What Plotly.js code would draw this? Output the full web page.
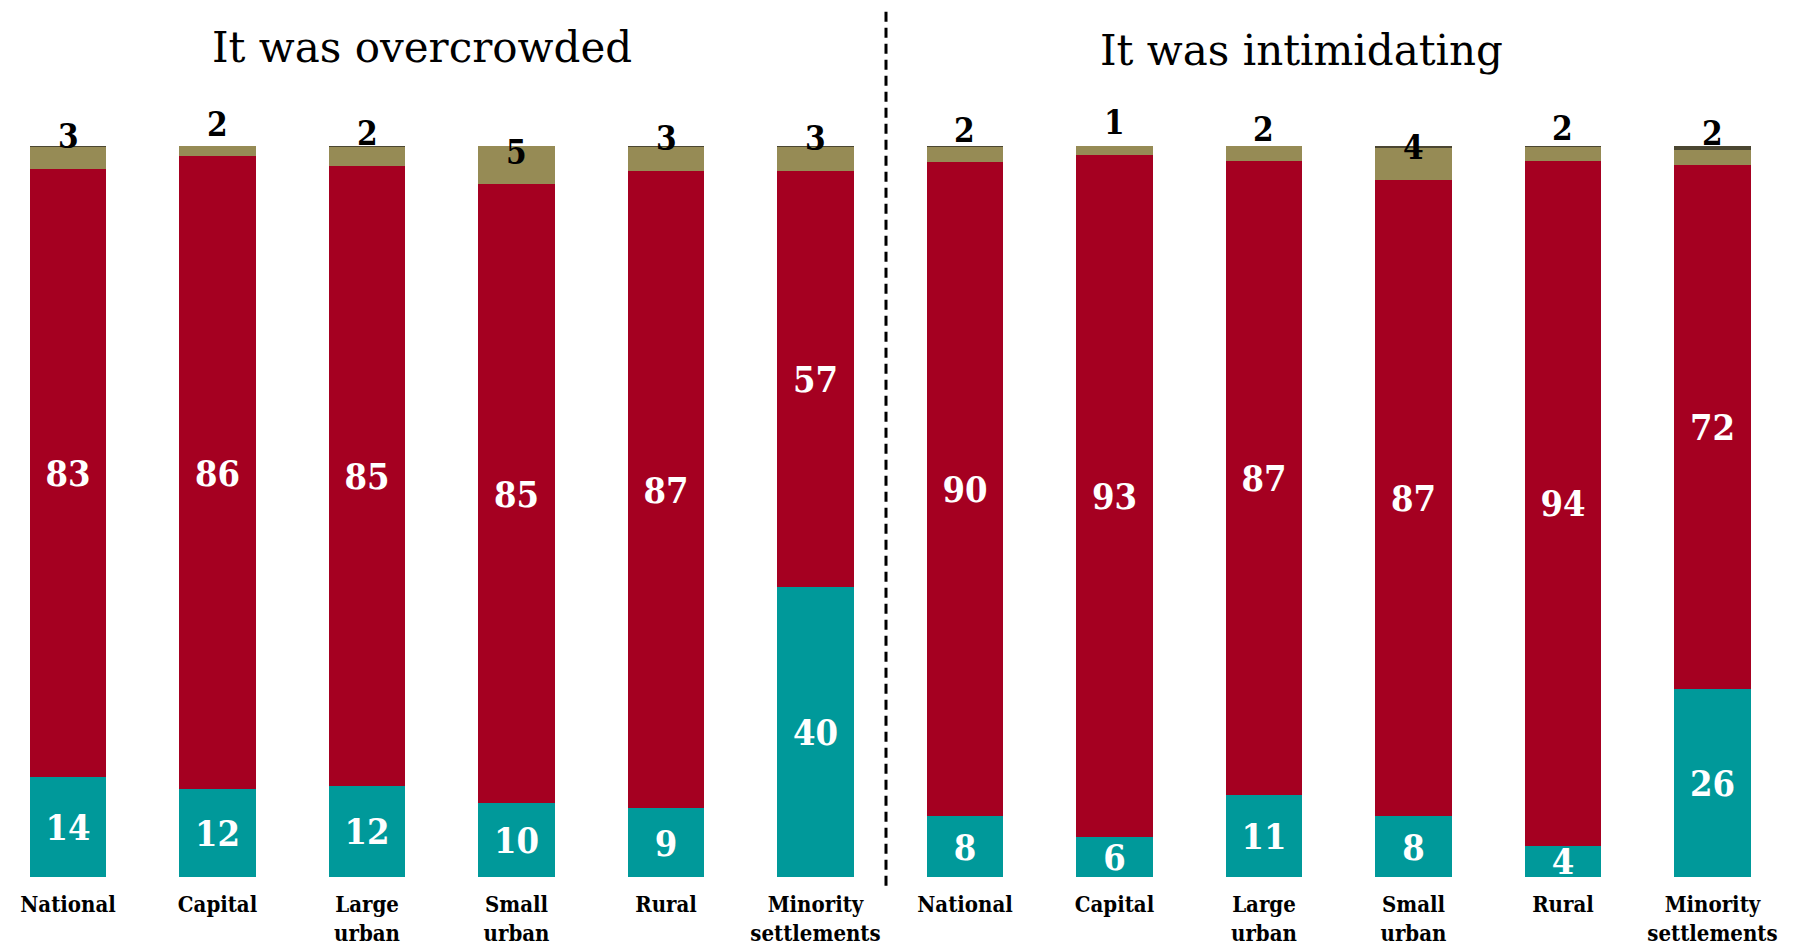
<!DOCTYPE html>
<html>
<head>
<meta charset="utf-8">
<script src="https://cdn.plot.ly/plotly-3.0.1.min.js"></script>
<style>html,body{margin:0;padding:0;background:#fff;}#chart{width:1805px;height:946px;}</style>
</head>
<body>
<div id="chart"></div>
<script>
// ---- data ----
const categories = ['National', 'Capital', 'Large<br>urban', 'Small<br>urban', 'Rural', 'Minority<br>settlements'];
const panelTitles = ['It was overcrowded', 'It was intimidating'];

// "It was overcrowded" (bar heights, labels as printed)
const crowdTeal  = [13.7, 12.0, 12.5, 10.1, 9.4, 39.7];
const crowdRed   = [83.2, 86.6, 84.8, 84.7, 87.2, 56.9];
const crowdOlive = [3.0, 1.4, 2.6, 5.2, 3.3, 3.3];
const crowdDark  = [0.1, 0.0, 0.15, 0.0, 0.15, 0.15];
const crowdTealLbl  = [14, 12, 12, 10, 9, 40];
const crowdRedLbl   = [83, 86, 85, 85, 87, 57];
const crowdOliveLbl = [3, 2, 2, 5, 3, 3];

// "It was intimidating"
const intimTeal  = [8.3, 5.5, 11.2, 8.3, 4.3, 25.7];
const intimRed   = [89.5, 93.3, 86.7, 87.1, 93.7, 71.7];
const intimOlive = [2.05, 1.2, 2.1, 4.3, 1.9, 2.1];
const intimDark  = [0.2, 0.0, 0.0, 0.3, 0.15, 0.5];
const intimTealLbl  = [8, 6, 11, 8, 4, 26];
const intimRedLbl   = [90, 93, 87, 87, 94, 72];
const intimOliveLbl = [2, 1, 2, 4, 2, 2];

// ---- style ----
const C_TEAL = '#00999a', C_RED = '#a50021', C_OLIVE = '#968b55', C_DARK = '#4b4631';
const FONT = 'DejaVu Serif Condensed, DejaVu Serif, serif';
const BARW = 0.51;

function panel(axis, teal, red, olive, dark, tealLbl, redLbl) {
  const base = {type: 'bar', x: categories, xaxis: axis, yaxis: 'y', width: BARW,
    hoverinfo: 'skip', showlegend: false, marker: {line: {width: 0}},
    textposition: 'inside', insidetextanchor: 'middle', constraintext: 'none', textangle: 0,
    textfont: {family: FONT, size: 36, color: '#ffffff', weight: 'bold'}, cliponaxis: false};
  return [
    Object.assign({}, base, {y: teal, marker: {color: C_TEAL}, text: tealLbl.map(String)}),
    Object.assign({}, base, {y: red, marker: {color: C_RED}, text: redLbl.map(String)}),
    Object.assign({}, base, {y: olive, marker: {color: C_OLIVE}}),
    Object.assign({}, base, {y: dark, marker: {color: C_DARK}})
  ];
}

const data = [].concat(
  panel('x', crowdTeal, crowdRed, crowdOlive, crowdDark, crowdTealLbl, crowdRedLbl),
  panel('x2', intimTeal, intimRed, intimOlive, intimDark, intimTealLbl, intimRedLbl)
);

function oliveAnnots(xref, teal, red, lbl) {
  return categories.map((c, i) => ({
    xref: xref, yref: 'y', x: c, y: teal[i] + red[i], text: String(lbl[i]),
    showarrow: false, yanchor: 'middle', yshift: 32,
    font: {family: FONT, size: 33, color: '#000000', weight: 'bold'}
  }));
}

const annotations = [].concat(
  oliveAnnots('x', crowdTeal, crowdRed, crowdOliveLbl),
  oliveAnnots('x2', intimTeal, intimRed, intimOliveLbl),
  [
    {xref: 'paper', yref: 'paper', x: 422 / 1805, y: 1.135, text: panelTitles[0], showarrow: false,
     xanchor: 'center', yanchor: 'middle', font: {family: 'DejaVu Serif, serif', size: 42, color: '#000'}},
    {xref: 'paper', yref: 'paper', x: 1301 / 1805, y: 1.13, text: panelTitles[1], showarrow: false,
     xanchor: 'center', yanchor: 'middle', font: {family: 'DejaVu Serif, serif', size: 42, color: '#000'}}
  ]
);

const xcommon = {type: 'category', showgrid: false, zeroline: false, showline: false, ticks: '',
  ticklabelstandoff: 12,
  tickfont: {family: FONT, size: 22, color: '#000', weight: 'bold'}, fixedrange: true};

const layout = {
  width: 1805, height: 946,
  margin: {l: 0, r: 0, t: 146, b: 69, pad: 0},
  paper_bgcolor: '#ffffff', plot_bgcolor: '#ffffff',
  barmode: 'stack', bargap: 0.49,
  xaxis: Object.assign({}, xcommon, {domain: [0, 0.5], range: [-0.455, 5.582]}),
  xaxis2: Object.assign({}, xcommon, {domain: [0.5, 1], range: [-0.418, 5.619], anchor: 'y'}),
  yaxis: {range: [0, 100], visible: false, fixedrange: true},
  annotations: annotations,
  shapes: [{type: 'line', xref: 'paper', yref: 'paper', x0: 886 / 1805, x1: 886 / 1805,
    y0: -0.012, y1: 1.19, line: {color: '#000', width: 3, dash: '10px,6px'}}]
};

Plotly.newPlot('chart', data, layout, {displayModeBar: false, staticPlot: true});
</script>
</body>
</html>
